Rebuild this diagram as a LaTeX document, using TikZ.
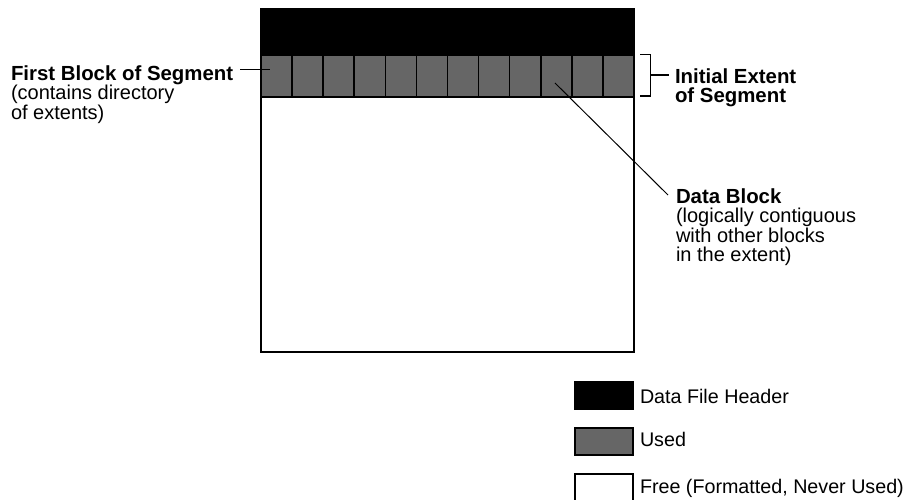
\documentclass[tikz,border=0pt]{standalone}
\usepackage{fontspec}
\setmainfont{Liberation Sans}
\definecolor{usedgray}{HTML}{666666}
\newcommand{\bigbf}[1]{{\fontsize{20.4}{19.5}\selectfont\bfseries #1}}
\begin{document}
\begin{tikzpicture}[x=1pt,y=-1pt,
  lbl/.style={inner sep=0pt, outer sep=0pt, align=left, font=\fontsize{20}{19.5}\selectfont},
  leglbl/.style={inner sep=0pt, outer sep=0pt, font=\fontsize{19.7}{19.5}\selectfont},
  leader/.style={line width=1pt},
  cell/.style={fill=usedgray, draw=black, line width=1.6pt, inner sep=0pt, outer sep=0pt,
               minimum width=31.08pt, minimum height=42pt, anchor=north west},
  legbox/.style={draw=black, line width=2pt, inner sep=0pt, outer sep=0pt,
                 minimum width=58pt, minimum height=27pt, anchor=north west},
]
\useasboundingbox (0,0) rectangle (922,500);
\fill[white] (0,0) rectangle (922,500);

% segment box
\node[fill=white, inner sep=0pt, outer sep=0pt, minimum width=373pt, minimum height=343pt, anchor=north west] (seg) at (261,9) {};
\fill[black] (261,9) rectangle (634,55);
\foreach \i in {1,...,12}
  \node[cell] (c\i) at ({261+(\i-1)*31.0833},55) {};
\draw[line width=2pt] (seg.north west) rectangle (seg.south east);

% first block label
\node[lbl, anchor=north west] (first) at (11,65.4) {\bigbf{First Block of Segment}\\(contains directory\\of extents)};
\coordinate (fl) at (240,70);
\draw[leader] (fl) -- ([xshift=-6.5pt,yshift=6pt]c1.center);

% bracket: initial extent
\node[lbl, anchor=north west] (init) at (675,68.4) {\bigbf{Initial Extent}\\\bigbf{of Segment}};
\coordinate (bt) at (640,54.5);
\coordinate (bb) at (640,96);
\coordinate (bm) at (650.5,75);
\draw[line width=1.5pt] (bt) -- (bt -| bm) -- (bb -| bm) -- (bb);
\draw[line width=1.5pt] (bm) -- ([xshift=-6pt]init.west |- bm);

% data block label
\node[lbl, anchor=north west] (db) at (676,188.4) {\bigbf{Data Block}\\(logically contiguous\\with other blocks\\in the extent)};
\coordinate (dbl) at (668,195);
\draw[leader] ([xshift=-1.3pt,yshift=-7pt]c10.center) -- (dbl);

% legend
\node[legbox, fill=black] (lh) at (575,382) {};
\node[legbox, fill=usedgray] (lu) at (575,428) {};
\node[legbox, fill=white] (lf) at (575,474) {};
\node[leglbl, anchor=base west] (th) at (640,403) {Data File Header};
\node[leglbl, anchor=base west] (tu) at (640,446.7) {Used};
\node[leglbl, anchor=base west] (tf) at (640,493.3) {Free (Formatted, Never Used)};
\end{tikzpicture}
\end{document}
